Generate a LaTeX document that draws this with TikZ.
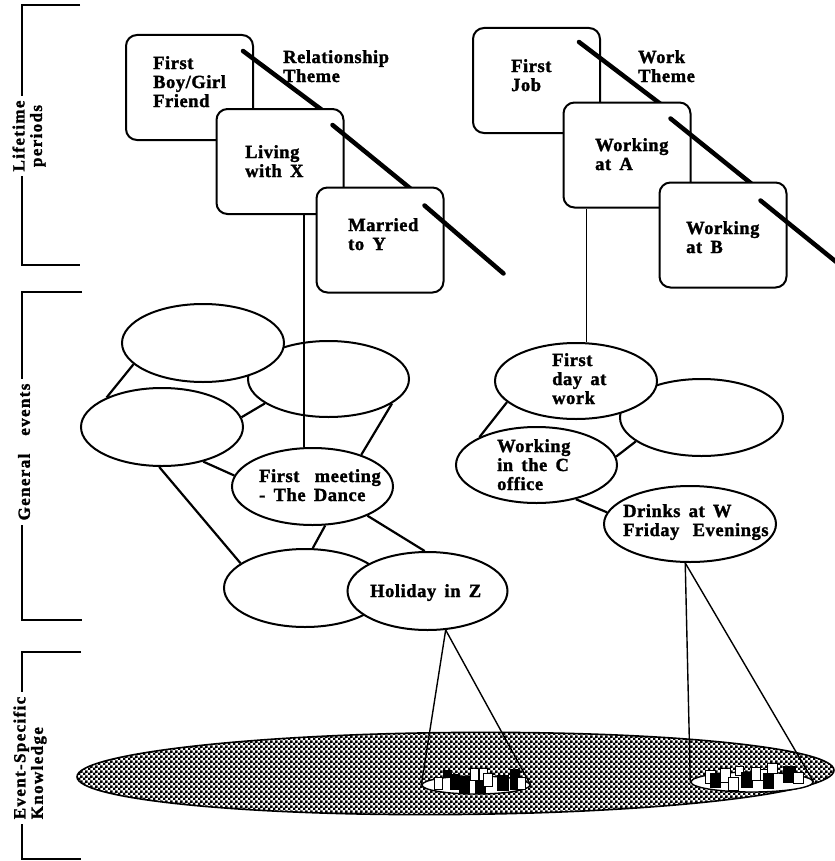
\documentclass[tikz,border=0pt]{standalone}
\usepackage{fontspec}
\setmainfont{Liberation Serif}
\newfontfamily\dfont{Liberation Serif}[LetterSpace=3,WordSpace=1.6,BoldFeatures={FakeBold=1.6}]
\newfontfamily\bfont{Liberation Serif}[LetterSpace=8,WordSpace=1.6,BoldFeatures={FakeBold=1.6}]
\usetikzlibrary{shapes.geometric,patterns,calc}
\pgfdeclarepatternformonly{eskdots}{\pgfqpoint{0bp}{0bp}}{\pgfqpoint{4.6bp}{4.6bp}}{\pgfqpoint{4.6bp}{4.6bp}}{%
  \pgfpathrectangle{\pgfqpoint{0bp}{0bp}}{\pgfqpoint{2.6bp}{2.6bp}}%
  \pgfpathrectangle{\pgfqpoint{2.3bp}{2.3bp}}{\pgfqpoint{2.6bp}{2.6bp}}%
  \pgfusepath{fill}}
\begin{document}
\begin{tikzpicture}[x=1bp,y=-1bp,
  lp/.style={draw,line width=2bp,rounded corners=11bp,fill=white,minimum width=127bp,minimum height=105bp,inner sep=0pt},
  ge/.style={ellipse,draw,line width=2bp,fill=white,inner sep=0pt},
  txt/.style={font=\dfont\bfseries\fontsize{18.5bp}{19bp}\selectfont,align=left,inner sep=0pt,anchor=base west},
  theme/.style={line width=4.5bp,line cap=round},
  link/.style={line width=2.2bp},
  vlink/.style={line width=1.7bp},
  thin/.style={line width=1.4bp},
  brk/.style={line width=2bp},
  blab/.style={font=\bfont\bfseries\fontsize{17bp}{17.5bp}\selectfont,rotate=90,fill=white,inner sep=5bp},
  eskbox/.style={line width=0.8bp}
]
\fill[white] (0,0) rectangle (835,861);
\useasboundingbox (0,0) rectangle (835,861);

% brackets
\draw[brk] (80,5) -- (22,5) -- (22,265) -- (80,265);
\draw[brk] (82,292) -- (22,292) -- (22,620) -- (82,620);
\draw[brk] (81,652) -- (22,652) -- (22,859) -- (81,859);
\node[blab,align=center] (l1) at (29,136) {Lifetime\\periods};
\node[blab] (l2) at (24,452) {General\ \ events};
\node[blab,align=left] (l3) at (30,758) {Event-Specific\\Knowledge};

% lifetime periods: relationship theme
\node[lp] (b1) at (189.5,87.5) {};
\draw[theme] ($(b1.north east)+(-11,17)$) -- ++(90,67.2);
\node[lp] (b2) at (280,161.5) {};
\draw[theme] ($(b2.north east)+(-12,17)$) -- ++(90,73.4);
\node[lp] (b3) at (380,240) {};
\draw[theme] ($(b3.north east)+(-20,19)$) -- ++(79,68);

% lifetime periods: work theme
\node[lp] (b4) at (536.5,80.5) {};
\draw[theme] ($(b4.north east)+(-22,15)$) -- ++(90,68.4);
\node[lp] (b5) at (627,155) {};
\draw[theme] ($(b5.north east)+(-21,17)$) -- ++(90,72.5);
\node[lp] (b6) at (723,235) {};
\draw[theme] ($(b6.north east)+(-27,19)$) -- ++(90,73);

% texts (anchor = baseline of last line)
\node[txt] (t1) at (153,107) {First\\Boy/Girl\\Friend};
\node[txt] (t2) at (283,82) {Relationship\\Theme};
\node[txt] (t3) at (245,177) {Living\\with X};
\node[txt] (t4) at (348,250) {Married\\to Y};
\node[txt] (t5) at (511,91) {First\\Job};
\node[txt] (t6) at (638,82) {Work\\Theme};
\node[txt] (t7) at (595,170) {Working\\at A};
\node[txt] (t8) at (686,253) {Working\\at B};

% general events: left
\node[ge,minimum width=161bp,minimum height=76bp] (e2) at (328.5,379) {};
\node[ge,minimum width=162bp,minimum height=78bp] (e1) at (203,343) {};
\node[ge,minimum width=162bp,minimum height=78bp] (e3) at (162,427) {};
\node[ge,minimum width=161bp,minimum height=77bp] (e4) at (312.5,486.5) {};
\node[ge,minimum width=162bp,minimum height=78bp] (e5) at (305,588) {};
\node[ge,minimum width=160bp,minimum height=78bp] (e6) at (427.5,591) {};

% general events: right
\node[ge,minimum width=163bp,minimum height=77bp] (w2) at (701.5,417.5) {};
\node[ge,minimum width=162bp,minimum height=76bp] (w1) at (576,381) {};
\node[ge,minimum width=161bp,minimum height=76bp] (w3) at (536.5,465) {};
\node[ge,minimum width=172bp,minimum height=76bp] (w4) at (690,524) {};

\node[txt] (t9) at (259,501) {First\hspace{7bp} meeting\\- The Dance};
\node[txt] (t10) at (370,597) {Holiday in Z};
\node[txt] (t11) at (552,404) {First\\day at\\work};
\node[txt] (t12) at (497,490) {Working\\in the C\\office};
\node[txt] (t13) at (623,536) {Drinks at W\\Friday\hspace{5bp} Evenings};

% connectors
\draw[vlink] (e4.102) -- (e4.102 |- b2.south);
\draw[vlink] (w1.75) -- (w1.75 |- b5.south);
\draw[link] (e1.197) -- (e3.152);
\draw[link] (e3.7) -- (e2.201);
\draw[link] (e2.339) -- (e4.33);
\draw[link] (e3.320) -- (e4.172);
\draw[link] (e3.266) -- (e5.159);
\draw[link] (e4.288) -- (e5.79);
\draw[link] (e4.332) -- (e6.94);
\draw[link] (w1.197) -- (w3.154);
\draw[link] (w3.6) -- (w2.200);
\draw[link] (w3.319) -- (w4.172);

% event-specific knowledge
\node[ellipse,draw,line width=1.6bp,pattern=eskdots,minimum width=757bp,minimum height=82bp,inner sep=0pt,rotate=0.5] (esk) at (455.5,773.5) {};
\node[ellipse,draw,line width=1.4bp,fill=white,minimum width=108bp,minimum height=18bp,inner sep=0pt] (s1) at (476,785) {};
\node[ellipse,draw,line width=1.4bp,fill=white,minimum width=122bp,minimum height=20bp,inner sep=0pt] (s2) at (752,782) {};
\foreach \x/\y/\w/\h/\c in {434/777/8/12/white,443/770/8/7/black,450/774/9/15/black,459/776/10/16/black,470/768/8/12/white,479/768/8/12/white,475/780/10/13/black,483/773/9/13/white,497/775/11/15/black,510/769/9/7/black,510/777/7/12/black,517/777/8/12/white,
705/770/10/13/white,710/773/10/14/black,720/768/10/14/white,728/777/10/13/white,735/766/8/9/white,741/772/11/15/black,751/767/9/13/white,760/769/8/11/white,767/763/10/10/white,763/773/10/15/black,783/766/12/16/black,793/772/10/11/white}
  \filldraw[eskbox,fill=\c] (\x,\y) rectangle ++(\w,\h);
\draw[thin] (e6.295) -- (s1.west);
\draw[thin] (e6.295) -- (s1.east);
\draw[thin] (w4.263) -- (s2.west);
\draw[thin] (w4.263) -- (s2.east);
\end{tikzpicture}
\end{document}
